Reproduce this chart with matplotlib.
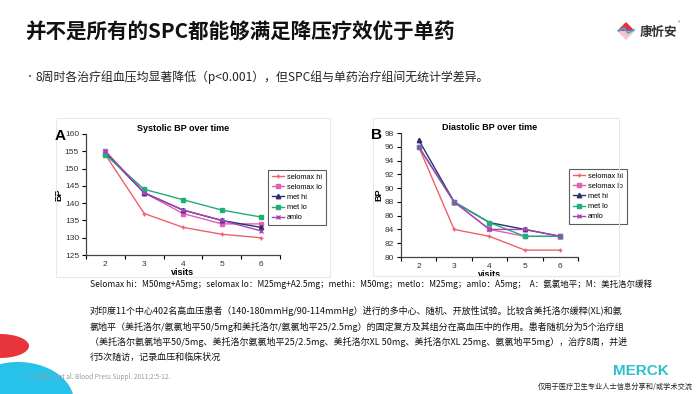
import numpy as np
import matplotlib
matplotlib.use('Agg')
import matplotlib.pyplot as plt
from matplotlib.patches import Rectangle, Ellipse, Polygon

plt.rcParams['font.family'] = ['Noto Sans CJK SC', 'DejaVu Sans']

# data
visits = [2, 3, 4, 5, 6]
series = ['selomax hi', 'selomax lo', 'met hi', 'met lo', 'amlo']
sys_bp = {
    'selomax hi': [154, 137, 133, 131, 130],
    'selomax lo': [155, 143, 137, 134, 134],
    'met hi': [154.5, 143, 138, 135, 133],
    'met lo': [154, 144, 141, 138, 136],
    'amlo': [155, 143, 138, 135, 132],
}
dia_bp = {
    'selomax hi': [96, 84, 83, 81, 81],
    'selomax lo': [96, 88, 84, 83, 83],
    'met hi': [97, 88, 85, 84, 83],
    'met lo': [96, 88, 85, 83, 83],
    'amlo': [96, 88, 84, 84, 83],
}
sys_ticks = [125, 130, 135, 140, 145, 150, 155, 160]
dia_ticks = [80, 82, 84, 86, 88, 90, 92, 94, 96, 98]

colors = {'selomax hi': '#f0606a', 'selomax lo': '#e060b8', 'met hi': '#2a2f6e',
          'met lo': '#1fae78', 'amlo': '#a544b8'}
markers = {'selomax hi': '+', 'selomax lo': 's', 'met hi': '^', 'met lo': 's', 'amlo': 'x'}

W, H = 700, 394
fig = plt.figure(figsize=(7, 3.94), dpi=100)


def fx(x):
    return x / W


def fy(y):
    return 1 - y / H


def panel(rect, data, ticks, title, letter, letter_x, leg_xy):
    ax = fig.add_axes(rect)
    for s in series:
        ax.plot(visits, data[s], color=colors[s], marker=markers[s], ms=3.2, lw=1.0,
                mew=1.0, label=s)
    ax.set_xlim(1.5, 6.5)
    ax.set_ylim(ticks[0], ticks[-1])
    ax.set_yticks(ticks)
    ax.set_xticks(visits)
    ax.set_xticks(np.arange(1.5, 7.0, 1.0), minor=True)
    ax.tick_params(axis='x', which='major', length=0, labelsize=6, pad=4)
    ax.tick_params(axis='x', which='minor', length=3, width=0.8)
    ax.tick_params(axis='y', length=3, width=0.8, labelsize=6, pad=2)
    for lbl in ax.get_xticklabels() + ax.get_yticklabels():
        lbl.set_fontfamily('Liberation Sans')
        lbl.set_color('#333333')
    for sp in ['top', 'right']:
        ax.spines[sp].set_visible(False)
    for sp in ['left', 'bottom']:
        ax.spines[sp].set_color('#444444')
        ax.spines[sp].set_linewidth(0.9)
    ax.set_title(title, fontsize=6.5, fontweight='bold', family='Liberation Sans', pad=2)
    ax.set_ylabel('BP', fontsize=6.5, fontweight='bold', family='Liberation Sans', labelpad=1)
    ax.set_xlabel('visits', fontsize=6.5, fontweight='bold', family='Liberation Sans', labelpad=0.5)
    ax.patch.set_alpha(0)
    leg = ax.legend(loc='upper left', bbox_to_anchor=leg_xy, bbox_transform=fig.transFigure,
                    frameon=True, fancybox=False, edgecolor='#333333', borderaxespad=0,
                    handlelength=1.7, labelspacing=0.4, borderpad=0.5, handletextpad=0.4,
                    prop={'family': 'Liberation Sans', 'size': 5.3})
    leg.get_frame().set_linewidth(0.8)
    fig.text(fx(letter_x), rect[1] + rect[3] - 0.005, letter, fontsize=11, fontweight='bold',
             family='Liberation Sans', va='center')
    return ax


# faint image frames
fig.patches.append(Rectangle((fx(56), fy(277)), fx(330 - 56), fy(118) - fy(277),
                             transform=fig.transFigure, fill=False, ec='#e4eae4', lw=0.8))
fig.patches.append(Rectangle((fx(373), fy(276)), fx(619 - 373), fy(118) - fy(276),
                             transform=fig.transFigure, fill=False, ec='#e4eae4', lw=0.8))

panel([fx(86), fy(255), fx(280 - 86), fy(134) - fy(255)], sys_bp, sys_ticks,
      'Systolic BP over time', 'A', 55, (fx(268), fy(170)))
panel([fx(401), fy(257), fx(578 - 401), fy(133) - fy(257)], dia_bp, dia_ticks,
      'Diastolic BP over time', 'B', 371, (fx(569), fy(169)))

# title and bullet
fig.text(fx(25), fy(32), '并不是所有的SPC都能够满足降压疗效优于单药', fontsize=14.8,
         fontweight='bold', va='center', color='#111111')
fig.text(fx(24), fy(77), '•', fontsize=7, color='#5b3e96', va='center')
fig.text(fx(36), fy(77), '8周时各治疗组血压均显著降低（p<0.001），但SPC组与单药治疗组间无统计学差异。',
         fontsize=8.6, va='center', color='#222222')

# top-right logo
fig.patches.append(Polygon([[fx(617), fy(31)], [fx(626), fy(22)], [fx(635), fy(31)]],
                           closed=True, transform=fig.transFigure, fc='#e2333f', ec='none'))
fig.patches.append(Polygon([[fx(617), fy(31)], [fx(626), fy(40)], [fx(635), fy(31)]],
                           closed=True, transform=fig.transFigure, fc='#f6c6cc', ec='none'))
fig.lines.append(plt.Line2D([fx(619), fx(624), fx(628), fx(634)],
                            [fy(31), fy(28), fy(33), fy(30)], transform=fig.transFigure,
                            color='#2ab7e6', lw=1.3))
fig.text(fx(640), fy(32), '康忻安', fontsize=9, fontweight='bold', va='center', color='#333333')
fig.text(fx(678), fy(24), '®', fontsize=3.5, va='center', color='#555555')

# notes under the charts
fig.text(fx(90), fy(284), 'Selomax hi：M50mg+A5mg；selomax lo：M25mg+A2.5mg；methi：M50mg；'
         'metlo：M25mg；amlo：A5mg；  A：氨氯地平；M：美托洛尔缓释',
         fontsize=6.08, va='center', color='#111111')
para = [
    '对印度11个中心402名高血压患者（140-180mmHg/90-114mmHg）进行的多中心、随机、开放性试验。比较含美托洛尔缓释(XL)和氨',
    '氯地平（美托洛尔/氨氯地平50/5mg和美托洛尔/氨氯地平25/2.5mg）的固定复方及其组分在高血压中的作用。患者随机分为5个治疗组',
    '（美托洛尔氨氯地平50/5mg、美托洛尔氨氯地平25/2.5mg、美托洛尔XL 50mg、美托洛尔XL 25mg、氨氯地平5mg），治疗8周，并进',
    '行5次随访，记录血压和临床状况',
]
for i, line in enumerate(para):
    fig.text(fx(90), fy(311 + i * 15.5), line, fontsize=6.5, va='center', color='#111111')

# bottom decorations
fig.patches.append(Ellipse((fx(0), fy(346)), fx(58), fy(334) - fy(358), transform=fig.transFigure,
                           fc='#e8343d', ec='none'))
fig.patches.append(Ellipse((fx(18), fy(402)), fx(112), fy(362) - fy(442), transform=fig.transFigure,
                           fc='#27c1ea', ec='none'))
fig.text(fx(25), fy(377), '1.   Dipti P, et al. Blood Press Suppl. 2011;2:5-12.', fontsize=4.7,
         va='center', color='#9a9a9a')
fig.text(fx(641), fy(371), 'MERCK', fontsize=11, fontweight='bold', ha='center', va='center',
         color='#2cbfce', family='Liberation Sans')
fig.text(fx(693), fy(387), '仅用于医疗卫生专业人士信息分享和/或学术交流', fontsize=5.2, ha='right',
         va='center', color='#222222')

fig.savefig('out.png', dpi=100)
